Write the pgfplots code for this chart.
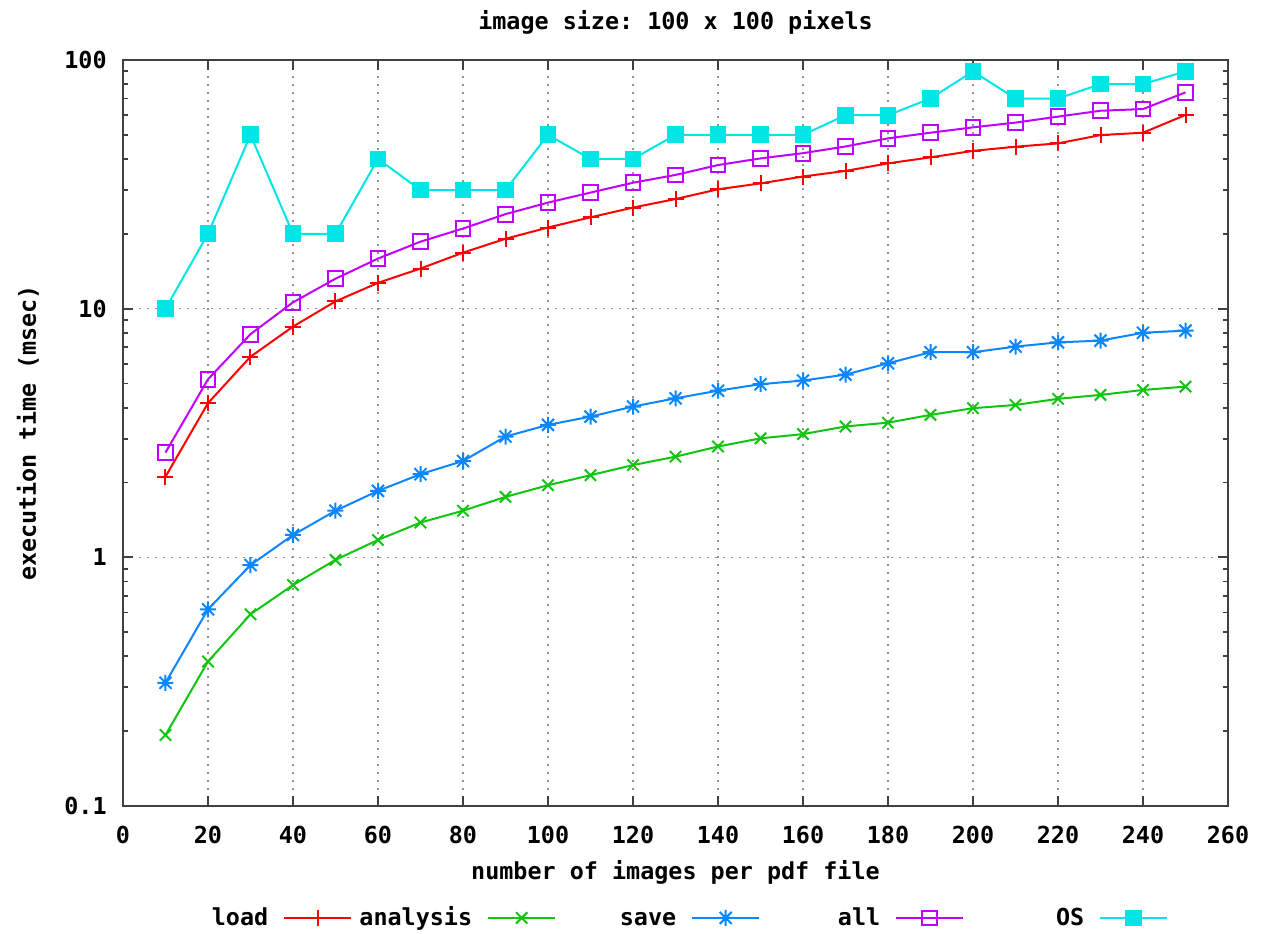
\documentclass[border=0pt]{standalone}
\usepackage{pgfplots}
\pgfplotsset{compat=1.18}
\usepackage{fontspec}
\setmainfont{DejaVu Sans Mono}
\definecolor{gpred}{HTML}{FF0000}
\definecolor{gpgreen}{HTML}{10C410}
\definecolor{gpblue}{HTML}{0A86FF}
\definecolor{gpmag}{HTML}{C000FF}
\definecolor{gpcyan}{HTML}{00E5E5}
\definecolor{gpborder}{HTML}{404040}
\pgfdeclareplotmark{pxstar}{%
  \pgfpathmoveto{\pgfqpoint{-\pgfplotmarksize}{0pt}}%
  \pgfpathlineto{\pgfqpoint{\pgfplotmarksize}{0pt}}%
  \pgfpathmoveto{\pgfqpoint{0pt}{-\pgfplotmarksize}}%
  \pgfpathlineto{\pgfqpoint{0pt}{\pgfplotmarksize}}%
  \pgfpathmoveto{\pgfqpoint{-0.75\pgfplotmarksize}{-0.75\pgfplotmarksize}}%
  \pgfpathlineto{\pgfqpoint{0.75\pgfplotmarksize}{0.75\pgfplotmarksize}}%
  \pgfpathmoveto{\pgfqpoint{-0.75\pgfplotmarksize}{0.75\pgfplotmarksize}}%
  \pgfpathlineto{\pgfqpoint{0.75\pgfplotmarksize}{-0.75\pgfplotmarksize}}%
  \pgfusepathqstroke}
\newcommand{\lgtext}[1]{\makebox[67.5pt][l]{\makebox[60pt][r]{\strut #1}}}
\begin{document}
\frenchspacing\bfseries\fontsize{11.7}{14}\selectfont
\begin{tikzpicture}
\begin{axis}[
  name=ax,
  scale only axis,
  width=552.5pt, height=373pt,
  ymode=log,
  xmin=0, xmax=260, ymin=0.1, ymax=100,
  xtick={0,20,...,260},
  ytick={0.1,1,10,100},
  yticklabels={0.1,1,10,100},
  /pgf/number format/assume math mode=true,
  axis line style={gpborder, line width=1.1pt},
  tick style={gpborder, line width=0.9pt},
  major tick length=5pt,
  minor tick length=2.5pt,
  xtick pos=both, ytick pos=both,
  tick align=inside,
  grid=major,
  major grid style={gray!85, line width=0.8pt, dash pattern=on 1.1pt off 2.9pt},
  xticklabel style={anchor=center, yshift=-14.5pt},
  yticklabel style={anchor=east, inner sep=0pt, xshift=-8pt},
  title={image size: 100 x 100 pixels},
  title style={at={(axis description cs:0.5,1)}, anchor=center, yshift=13pt},
  xlabel={number of images per pdf file},
  xlabel style={at={(axis description cs:0.5,0)}, anchor=center, yshift=-33pt},
  ylabel={execution time (msec)},
  ylabel style={at={(axis description cs:0,0.5)}, anchor=center, yshift=47.5pt},
  legend plot pos=right,
  legend columns=5,
  legend style={at={(axis description cs:0.017,-0.150)}, anchor=west, draw=none, fill=none,
    column sep=0pt, nodes={inner sep=0pt}},
  legend image code/.code={\draw[mark repeat=2,mark phase=2,#1] plot coordinates {(0pt,0pt) (16.75pt,0pt) (33.5pt,0pt)};},
  every axis plot/.append style={line width=1pt},
]
\addplot[gpred, mark=+, mark size=4pt] coordinates {
(10,2.11)(20,4.17)(30,6.41)(40,8.47)(50,10.7)(60,12.7)(70,14.5)(80,16.8)(90,19.1)(100,21.2)
(110,23.3)(120,25.5)(130,27.6)(140,30.2)(150,31.9)(160,34.0)(170,35.8)(180,38.4)(190,40.6)(200,43.1)
(210,44.8)(220,46.2)(230,49.9)(240,51.0)(250,60.1)};
\addlegendentry{\lgtext{load}}
\addplot[gpgreen, mark=x, mark size=4pt] coordinates {
(10,0.193)(20,0.381)(30,0.590)(40,0.774)(50,0.977)(60,1.175)(70,1.38)(80,1.54)(90,1.75)(100,1.95)
(110,2.14)(120,2.35)(130,2.54)(140,2.79)(150,3.01)(160,3.13)(170,3.36)(180,3.48)(190,3.74)(200,3.98)
(210,4.10)(220,4.34)(230,4.50)(240,4.71)(250,4.86)};
\addlegendentry{\lgtext{analysis}}
\addplot[gpblue, mark=pxstar, mark size=4pt] coordinates {
(10,0.313)(20,0.618)(30,0.931)(40,1.23)(50,1.54)(60,1.85)(70,2.16)(80,2.44)(90,3.06)(100,3.41)
(110,3.68)(120,4.04)(130,4.36)(140,4.68)(150,4.97)(160,5.14)(170,5.43)(180,6.03)(190,6.68)(200,6.68)
(210,7.04)(220,7.32)(230,7.44)(240,8.0)(250,8.16)};
\addlegendentry{\lgtext{save}}
\addplot[gpmag, mark=square, mark size=3.7pt] coordinates {
(10,2.64)(20,5.2)(30,7.9)(40,10.6)(50,13.2)(60,15.9)(70,18.6)(80,21.0)(90,24.0)(100,26.7)
(110,29.3)(120,32.1)(130,34.5)(140,37.8)(150,40.2)(160,42.2)(170,44.9)(180,48.4)(190,51.0)(200,53.6)
(210,56.0)(220,59.2)(230,62.5)(240,63.5)(250,74.1)};
\addlegendentry{\lgtext{all}}
\addplot[gpcyan, mark=square*, mark size=3.7pt] coordinates {
(10,10)(20,20)(30,50)(40,20)(50,20)(60,40)(70,30)(80,30)(90,30)(100,50)
(110,40)(120,40)(130,50)(140,50)(150,50)(160,50)(170,60)(180,60)(190,70)(200,90)
(210,70)(220,70)(230,80)(240,80)(250,90)};
\addlegendentry{\lgtext{OS}}
\end{axis}
\pgfresetboundingbox
\path[use as bounding box] ([xshift=-61.5pt,yshift=-63.5pt]ax.south west) rectangle ([xshift=18pt,yshift=30pt]ax.north east);
\end{tikzpicture}
\end{document}
